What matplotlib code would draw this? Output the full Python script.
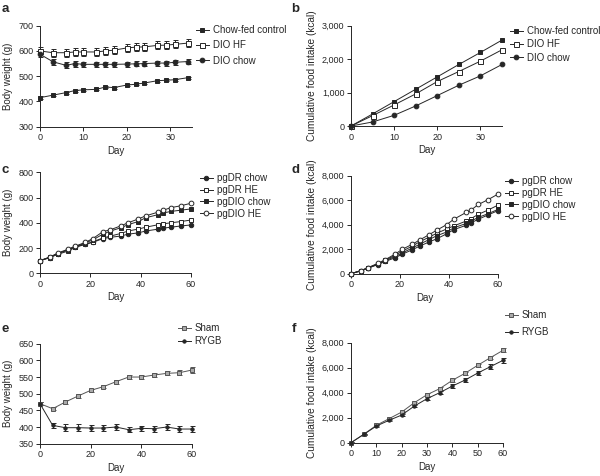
import matplotlib
matplotlib.use('Agg')
import matplotlib.pyplot as plt
from matplotlib.ticker import StrMethodFormatter

plt.rcParams['font.family'] = ['Liberation Sans', 'DejaVu Sans']
plt.rcParams['font.size'] = 6.5

INK = '#262626'

# panel a: body weight, DIO rats
days_a = [0, 3, 6, 8, 10, 13, 15, 17, 20, 22, 24, 27, 29, 31, 34]
chow_ctrl_bw = [415, 425, 435, 443, 446, 448, 457, 455, 465, 468, 473, 482, 484, 486, 494]
chow_ctrl_err = [6, 4, 4, 4, 4, 4, 4, 4, 4, 4, 4, 4, 4, 4, 4]
dio_hf_bw = [600, 593, 593, 596, 596, 596, 600, 603, 612, 615, 616, 622, 623, 626, 631]
dio_hf_err = [14, 16, 16, 16, 16, 16, 16, 16, 16, 16, 16, 16, 16, 16, 16]
dio_chow_bw = [587, 557, 543, 550, 547, 547, 547, 547, 548, 549, 550, 552, 552, 555, 558]
dio_chow_err = [12, 12, 12, 12, 10, 10, 10, 10, 10, 10, 10, 10, 10, 10, 10]

# panel b: cumulative food intake
days_b = [0, 5, 10, 15, 20, 25, 30, 35]
chow_ctrl_fi = [0, 360, 730, 1100, 1470, 1840, 2200, 2570]
dio_hf_fi = [0, 310, 630, 960, 1330, 1630, 1940, 2280]
dio_chow_fi = [0, 120, 320, 600, 910, 1220, 1500, 1840]

# panel c/d: pups
days_c = [0, 4, 7, 11, 14, 18, 21, 25, 28, 32, 35, 39, 42, 47, 49, 52, 56, 60]
pgdr_chow_bw = [100, 125, 155, 185, 210, 230, 245, 275, 285, 295, 310, 320, 335, 350, 358, 365, 375, 383]
pgdr_he_bw = [100, 125, 150, 175, 205, 230, 250, 280, 295, 315, 335, 350, 365, 385, 392, 400, 410, 422]
pgdio_chow_bw = [100, 128, 155, 185, 210, 240, 265, 310, 335, 360, 385, 410, 440, 465, 478, 490, 500, 510]
pgdio_he_bw = [100, 130, 160, 190, 215, 245, 275, 330, 345, 375, 400, 430, 455, 485, 500, 520, 535, 555]

pgdr_chow_fi = [0, 230, 450, 750, 1000, 1300, 1600, 1950, 2250, 2600, 2850, 3250, 3600, 3950, 4150, 4450, 4800, 5150]
pgdr_he_fi = [0, 250, 480, 800, 1100, 1500, 1850, 2250, 2600, 3000, 3300, 3650, 3900, 4300, 4500, 4850, 5200, 5600]
pgdio_chow_fi = [0, 240, 470, 780, 1050, 1400, 1700, 2100, 2400, 2800, 3100, 3400, 3750, 4100, 4300, 4600, 4900, 5250]
pgdio_he_fi = [0, 250, 500, 850, 1150, 1600, 2000, 2400, 2750, 3200, 3550, 4000, 4450, 5000, 5200, 5650, 6050, 6500]

# panel e/f: surgery
days_e = [0, 5, 10, 15, 20, 25, 30, 35, 40, 45, 50, 55, 60]
sham_bw = [470, 455, 475, 493, 510, 521, 536, 550, 550, 556, 561, 563, 571]
sham_bw_err = [5, 5, 5, 5, 5, 5, 6, 6, 6, 6, 6, 7, 10]
rygb_bw = [470, 405, 398, 398, 397, 397, 400, 392, 396, 395, 400, 394, 394]
rygb_bw_err = [5, 8, 10, 10, 10, 9, 9, 8, 8, 9, 9, 10, 10]
sham_fi = [0, 670, 1390, 1920, 2450, 3200, 3840, 4320, 4990, 5550, 6190, 6800, 7390]
sham_fi_err = [30, 50, 60, 70, 80, 90, 100, 110, 120, 120, 130, 140, 150]
rygb_fi = [0, 660, 1330, 1790, 2210, 2930, 3520, 4000, 4530, 5010, 5570, 6080, 6590]
rygb_fi_err = [30, 50, 60, 70, 80, 100, 110, 120, 130, 150, 170, 200, 220]

W, H = 600, 476
fig = plt.figure(figsize=(W / 100, H / 100), dpi=100)


def make_axes(left, right, top, bottom):
    ax = fig.add_axes([left / W, 1 - bottom / H, (right - left) / W, (bottom - top) / H])
    for s in ['top', 'right']:
        ax.spines[s].set_visible(False)
    for s in ['left', 'bottom']:
        ax.spines[s].set_linewidth(0.7)
        ax.spines[s].set_color(INK)
    ax.tick_params(direction='out', length=2.8, width=0.7, colors=INK, labelsize=6.5, pad=2)
    ax.yaxis.set_major_formatter(StrMethodFormatter('{x:,.0f}'))
    ax.set_xlabel('Day', fontsize=7, color=INK, labelpad=2.5)
    return ax


def series(ax, x, y, marker, face, label, err=None, ms=3.2, color=INK):
    ax.errorbar(x, y, yerr=err, color=color, marker=marker, mfc=face, mec=color, ms=ms,
                lw=0.7, mew=0.7, elinewidth=0.7, capsize=1.8, capthick=0.7,
                label=label, clip_on=False, zorder=3)


def legend(ax, x, y, spacing=0.35):
    handles, labels = ax.get_legend_handles_labels()
    handles = [h[0] if isinstance(h, tuple) else h for h in handles]
    ax.legend(handles, labels, loc='upper left', bbox_to_anchor=(x / W, 1 - y / H),
              bbox_transform=fig.transFigure, frameon=False, fontsize=7,
              handlelength=1.3, handletextpad=0.4, labelspacing=spacing,
              borderpad=0, borderaxespad=0, labelcolor=INK)


def panel_letter(x, y, s):
    fig.text(x / W, 1 - y / H, s, fontsize=9.5, fontweight='bold', va='center', ha='left', color=INK)


# a
ax = make_axes(40, 192, 25.7, 126.7)
series(ax, days_a, chow_ctrl_bw, 's', INK, 'Chow-fed control', chow_ctrl_err, ms=2.6)
series(ax, days_a, dio_hf_bw, 's', 'white', 'DIO HF', dio_hf_err, ms=3.6)
series(ax, days_a, dio_chow_bw, 'o', INK, 'DIO chow', dio_chow_err, ms=3.4)
ax.set_xlim(0, 35)
ax.set_ylim(300, 700)
ax.set_xticks([0, 10, 20, 30])
ax.set_yticks([300, 400, 500, 600, 700])
ax.set_ylabel('Body weight (g)', fontsize=7, color=INK, labelpad=4)
legend(ax, 196, 25, spacing=0.55)
panel_letter(2, 9, 'a')

# b
ax = make_axes(351, 502, 25.7, 126)
series(ax, days_b, chow_ctrl_fi, 's', INK, 'Chow-fed control', ms=2.6)
series(ax, days_b, dio_hf_fi, 's', 'white', 'DIO HF', ms=3.6)
series(ax, days_b, dio_chow_fi, 'o', INK, 'DIO chow', ms=3.4)
ax.set_xlim(0, 35)
ax.set_ylim(0, 3000)
ax.set_xticks([0, 10, 20, 30])
ax.set_yticks([0, 1000, 2000, 3000])
ax.set_ylabel('Cumulative food intake (kcal)', fontsize=7.3, color=INK, labelpad=3.5)
legend(ax, 510, 26, spacing=0.35)
panel_letter(291, 9, 'b')

# c
ax = make_axes(40, 191, 172.3, 273.3)
series(ax, days_c, pgdr_chow_bw, 'o', INK, 'pgDR chow', ms=3.2)
series(ax, days_c, pgdr_he_bw, 's', 'white', 'pgDR HE', ms=3.4)
series(ax, days_c, pgdio_chow_bw, 's', INK, 'pgDIO chow', ms=2.8)
series(ax, days_c, pgdio_he_bw, 'o', 'white', 'pgDIO HE', ms=3.4)
ax.set_xlim(0, 60)
ax.set_ylim(0, 800)
ax.set_xticks([0, 20, 40, 60])
ax.set_yticks([0, 200, 400, 600, 800])
ax.set_ylabel('Body weight (g)', fontsize=7, color=INK, labelpad=4)
legend(ax, 200, 173, spacing=0.2)
panel_letter(1, 170, 'c')

# d
ax = make_axes(351, 498, 175.7, 273.7)
series(ax, days_c, pgdr_chow_fi, 'o', INK, 'pgDR chow', ms=3.2)
series(ax, days_c, pgdr_he_fi, 's', 'white', 'pgDR HE', ms=3.4)
series(ax, days_c, pgdio_chow_fi, 's', INK, 'pgDIO chow', ms=2.8)
series(ax, days_c, pgdio_he_fi, 'o', 'white', 'pgDIO HE', ms=3.4)
ax.set_xlim(0, 60)
ax.set_ylim(0, 8000)
ax.set_xticks([0, 20, 40, 60])
ax.set_yticks([0, 2000, 4000, 6000, 8000])
ax.set_ylabel('Cumulative food intake (kcal)', fontsize=7.3, color=INK, labelpad=3.5)
legend(ax, 505, 176, spacing=0.2)
panel_letter(291, 170, 'd')

# e
GRAY = '#555555'
ax = make_axes(40, 192, 343.7, 443.7)
series(ax, days_e, sham_bw, 's', '#aaaaaa', 'Sham', sham_bw_err, ms=3.4, color=GRAY)
series(ax, days_e, rygb_bw, 'o', INK, 'RYGB', rygb_bw_err, ms=2.4)
ax.set_xlim(0, 60)
ax.set_ylim(350, 650)
ax.set_xticks([0, 20, 40, 60])
ax.set_yticks([350, 400, 450, 500, 550, 600, 650])
ax.set_ylabel('Body weight (g)', fontsize=7, color=INK, labelpad=4)
legend(ax, 178, 323, spacing=0.3)
panel_letter(2, 329, 'e')

# f
ax = make_axes(351, 503, 342.7, 442.7)
series(ax, days_e, sham_fi, 's', '#aaaaaa', 'Sham', sham_fi_err, ms=3.4, color=GRAY)
series(ax, days_e, rygb_fi, 'o', INK, 'RYGB', rygb_fi_err, ms=2.4)
ax.set_xlim(0, 60)
ax.set_ylim(0, 8000)
ax.set_xticks([0, 10, 20, 30, 40, 50, 60])
ax.set_yticks([0, 2000, 4000, 6000, 8000])
ax.set_ylabel('Cumulative food intake (kcal)', fontsize=7.3, color=INK, labelpad=3.5)
legend(ax, 505, 310, spacing=0.75)
panel_letter(292, 329, 'f')

fig.savefig('out.png', dpi=100)
